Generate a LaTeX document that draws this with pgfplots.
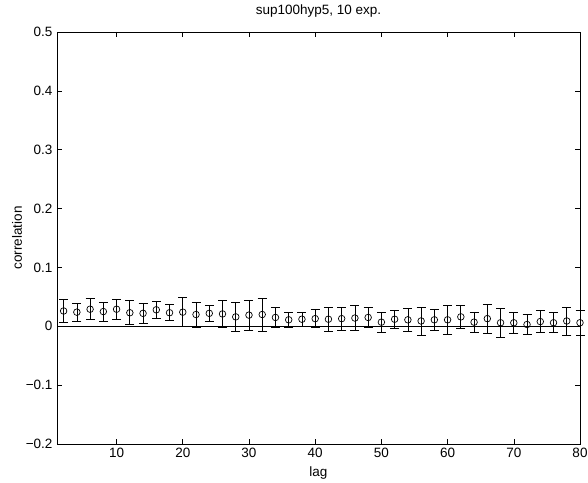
\documentclass[border=0pt]{standalone}
\usepackage{fontspec}
\setmainfont{Liberation Sans}
\usepackage{pgfplots}
\usepackage{pgfplotstable}
\pgfplotsset{compat=1.18}
\pgfplotstableread{
lag c e
2 0.026 0.019
4 0.024 0.0155
6 0.029 0.018
8 0.025 0.0165
10 0.029 0.0175
12 0.023 0.0205
14 0.022 0.017
16 0.028 0.0145
18 0.023 0.0135
20 0.024 0.0245
22 0.020 0.021
24 0.022 0.013
26 0.021 0.023
28 0.016 0.025
30 0.019 0.0255
32 0.020 0.028
34 0.015 0.0175
36 0.011 0.0125
38 0.012 0.0125
40 0.013 0.0155
42 0.012 0.0205
44 0.013 0.020
46 0.014 0.021
48 0.015 0.017
50 0.007 0.0175
52 0.012 0.015
54 0.011 0.0195
56 0.009 0.024
58 0.011 0.0185
60 0.011 0.024
62 0.016 0.0195
64 0.007 0.0175
66 0.013 0.0245
68 0.006 0.0245
70 0.006 0.0175
72 0.003 0.0165
74 0.008 0.0185
76 0.006 0.017
78 0.009 0.024
80 0.006 0.021
}\datatable
\begin{document}
\begin{tikzpicture}
\begin{axis}[
  scale only axis,
  width=523pt, height=412pt,
  xmin=1, xmax=80, ymin=-0.2, ymax=0.5,
  xtick={10,20,30,40,50,60,70,80},
  xticklabels={10,20,30,40,50,60,70,80},
  ytick={-0.2,-0.1,0,0.1,0.2,0.3,0.4,0.5},
  yticklabels={−0.2,−0.1,0,0.1,0.2,0.3,0.4,0.5},
  tick align=inside,
  major tick length=5pt,
  tick style={black, line width=0.6pt},
  axis line style={line width=0.9pt},
  ticklabel style={font=\fontsize{13.5}{15}\selectfont},
  xticklabel style={yshift=-1pt},
  yticklabel style={xshift=-1pt},
  title={sup100hyp5, 10 exp.},
  title style={font=\fontsize{13.5}{15}\selectfont, at={(axis description cs:0.5,1.0364)}, anchor=center},
  xlabel={lag},
  xlabel style={font=\fontsize{13.5}{15}\selectfont, at={(axis description cs:0.5,-0.0704)}, anchor=center},
  ylabel={correlation},
  ylabel style={font=\fontsize{13.5}{15}\selectfont, at={(axis description cs:-0.0765,0.5)}, anchor=center},
  clip=false,
]
\addplot[black, line width=0.8pt, no marks] coordinates {(1,0) (80,0)};
\addplot[black, only marks, mark=o, mark size=3.3pt, mark options={line width=0.7pt},
  error bars/.cd, y dir=both, y explicit,
  error bar style={line width=0.7pt, black},
  error mark options={rotate=90, mark size=4.5pt, line width=0.7pt, black}]
  table[x=lag, y=c, y error=e] {\datatable};
\coordinate (ll) at (rel axis cs:0,0);
\coordinate (ur) at (rel axis cs:1,1);
\end{axis}
\pgfresetboundingbox
\path ([shift={(-57pt,-39pt)}]ll) rectangle ([shift={(8pt,32pt)}]ur);
\end{tikzpicture}
\end{document}
